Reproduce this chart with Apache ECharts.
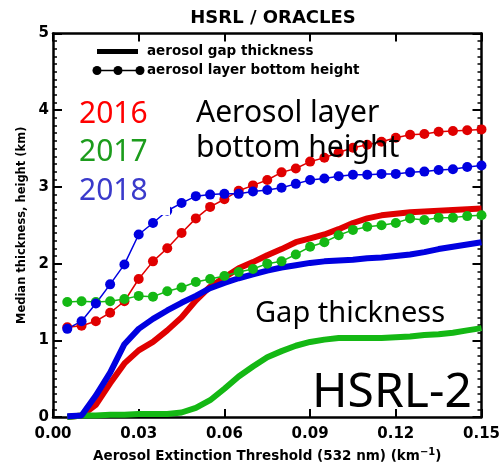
<!DOCTYPE html>
<html>
<head>
<meta charset="utf-8">
<script src="https://cdn.jsdelivr.net/npm/echarts@6.0.0/dist/echarts.min.js"></script>
<style>
html, body { margin: 0; padding: 0; background: #fff; }
#chart { width: 503px; height: 468px; }
</style>
</head>
<body>
<div id="chart"></div>
<script>
// Extinction thresholds (km^-1)
const thresholds = [0.005, 0.010, 0.015, 0.020, 0.025, 0.030, 0.035, 0.040, 0.045, 0.050,
                    0.055, 0.060, 0.065, 0.070, 0.075, 0.080, 0.085, 0.090, 0.095, 0.100,
                    0.105, 0.110, 0.115, 0.120, 0.125, 0.130, 0.135, 0.140, 0.145, 0.150];

// Median aerosol gap thickness (km)
const gap2016 = [0.00, 0.02, 0.16, 0.44, 0.70, 0.87, 0.98, 1.13, 1.30, 1.52,
                 1.70, 1.82, 1.94, 2.02, 2.11, 2.19, 2.28, 2.33, 2.38, 2.45,
                 2.53, 2.59, 2.63, 2.65, 2.67, 2.68, 2.69, 2.70, 2.71, 2.72];
const gap2017 = [0.00, 0.02, 0.02, 0.03, 0.03, 0.04, 0.04, 0.04, 0.06, 0.12,
                 0.22, 0.37, 0.53, 0.66, 0.78, 0.86, 0.93, 0.98, 1.01, 1.03,
                 1.03, 1.03, 1.03, 1.04, 1.05, 1.07, 1.08, 1.10, 1.13, 1.16];
const gap2018 = [0.01, 0.02, 0.28, 0.58, 0.95, 1.15, 1.28, 1.39, 1.49, 1.58,
                 1.68, 1.75, 1.81, 1.86, 1.91, 1.95, 1.98, 2.01, 2.03, 2.04,
                 2.05, 2.07, 2.08, 2.10, 2.12, 2.15, 2.19, 2.22, 2.25, 2.28];

// Median aerosol layer bottom height (km)
const base2016 = [1.17, 1.19, 1.25, 1.36, 1.51, 1.80, 2.03, 2.20, 2.40, 2.59,
                  2.74, 2.84, 2.95, 3.02, 3.09, 3.19, 3.24, 3.33, 3.38, 3.45,
                  3.51, 3.55, 3.59, 3.64, 3.68, 3.69, 3.72, 3.73, 3.74, 3.75];
const base2017 = [1.50, 1.51, 1.50, 1.51, 1.54, 1.58, 1.57, 1.64, 1.69, 1.76,
                  1.80, 1.84, 1.89, 1.93, 2.00, 2.03, 2.12, 2.22, 2.28, 2.37,
                  2.44, 2.48, 2.50, 2.53, 2.59, 2.57, 2.60, 2.60, 2.62, 2.63];
const base2018 = [1.15, 1.25, 1.48, 1.73, 1.99, 2.38, 2.53, 2.69, 2.79, 2.88,
                  2.90, 2.91, 2.91, 2.94, 2.96, 2.99, 3.04, 3.09, 3.11, 3.14,
                  3.16, 3.16, 3.17, 3.17, 3.19, 3.20, 3.22, 3.23, 3.26, 3.28];

const xTicks = ['0.00', '0.03', '0.06', '0.09', '0.12', '0.15'];
const yTicks = ['0', '1', '2', '3', '4', '5'];

const RED = '#e00000', GREEN = '#14b814', BLUE = '#0000e0';
const AXIS_FONT = 'DejaVu Sans';

const pairs = (ys) => thresholds.map((x, i) => [x, ys[i]]);

function gapSeries(name, ys, color) {
  return {
    name, type: 'line', data: pairs(ys), showSymbol: false, symbol: 'none',
    lineStyle: { color, width: 6 }, itemStyle: { color }, z: 2, animation: false
  };
}
function baseSeries(name, ys, color) {
  return {
    name, type: 'line', data: pairs(ys), symbol: 'circle', symbolSize: 10,
    lineStyle: { color, width: 1.5 }, itemStyle: { color }, z: 3, animation: false
  };
}

const axisLine = { show: true, onZero: false, lineStyle: { color: '#000', width: 2.5 } };
const xTick = { show: true, inside: true, length: 8, lineStyle: { color: '#000', width: 2 } };
const yTick = { show: true, inside: true, length: 9, lineStyle: { color: '#000', width: 2 } };
const yMinor = { show: true, splitNumber: 10, length: 4, lineStyle: { color: '#000', width: 1.5 } };

const chart = echarts.init(document.getElementById('chart'), null, { renderer: 'canvas' });
chart.setOption({
  animation: false,
  backgroundColor: '#fff',
  title: {
    text: 'HSRL / ORACLES', left: 268, top: 4, textAlign: 'center',
    textStyle: { fontFamily: AXIS_FONT, fontWeight: 'bold', fontSize: 18, color: '#000' }
  },
  grid: { left: 53, right: 20, top: 33.5, bottom: 44.5, containLabel: false },
  xAxis: [{
    type: 'value', min: 0, max: 0.15, interval: 0.03, position: 'bottom',
    name: 'Aerosol Extinction Threshold (532 nm) (km{sup|−1})',
    nameLocation: 'middle', nameGap: 26,
    nameTextStyle: {
      fontFamily: AXIS_FONT, fontWeight: 'bold', fontSize: 13.5, color: '#000',
      rich: { sup: { fontFamily: AXIS_FONT, fontWeight: 'bold', fontSize: 10, verticalAlign: 'top', padding: [0, 0, 8, 0] } }
    },
    axisLine, axisTick: xTick,
    axisLabel: {
      margin: 10, fontFamily: AXIS_FONT, fontWeight: 'bold', fontSize: 15, color: '#000',
      formatter: (v) => xTicks[Math.round(v / 0.03)]
    },
    splitLine: { show: false }
  }, {
    type: 'value', min: 0, max: 0.15, interval: 0.03, position: 'top',
    axisLine, axisTick: xTick,
    axisLabel: { show: false }, splitLine: { show: false }
  }],
  yAxis: [{
    type: 'value', min: 0, max: 5, interval: 1, position: 'left',
    name: 'Median thickness, height (km)', nameLocation: 'middle', nameGap: 25,
    nameTextStyle: { fontFamily: AXIS_FONT, fontWeight: 'bold', fontSize: 11.5, color: '#000' },
    axisLine, axisTick: yTick, minorTick: yMinor,
    axisLabel: {
      margin: 4, fontFamily: AXIS_FONT, fontWeight: 'bold', fontSize: 15, color: '#000',
      formatter: (v) => yTicks[Math.round(v)]
    },
    splitLine: { show: false }, minorSplitLine: { show: false }
  }, {
    type: 'value', min: 0, max: 5, interval: 1, position: 'right',
    axisLine, axisTick: yTick, minorTick: yMinor,
    axisLabel: { show: false }, splitLine: { show: false }, minorSplitLine: { show: false }
  }],
  series: [
    gapSeries('gap 2016', gap2016, RED),
    gapSeries('gap 2017', gap2017, GREEN),
    gapSeries('gap 2018', gap2018, BLUE),
    baseSeries('bottom 2016', base2016, RED),
    baseSeries('bottom 2017', base2017, GREEN),
    baseSeries('bottom 2018', base2018, BLUE)
  ],
  graphic: [
    // key
    { type: 'line', z: 100, shape: { x1: 97, y1: 51.5, x2: 138, y2: 51.5 }, style: { stroke: '#000', lineWidth: 5 } },
    { type: 'text', z: 100, style: { text: 'aerosol gap thickness', x: 147, y: 51.5, verticalAlign: 'middle',
        font: 'bold 13.5px "DejaVu Sans"', fill: '#000' } },
    { type: 'line', z: 100, shape: { x1: 97, y1: 70.5, x2: 140, y2: 70.5 }, style: { stroke: '#000', lineWidth: 1.5 } },
    { type: 'circle', z: 100, shape: { cx: 97, cy: 70.5, r: 4.5 }, style: { fill: '#000' } },
    { type: 'circle', z: 100, shape: { cx: 118, cy: 70.5, r: 4.5 }, style: { fill: '#000' } },
    { type: 'circle', z: 100, shape: { cx: 140, cy: 70.5, r: 4.5 }, style: { fill: '#000' } },
    { type: 'text', z: 100, style: { text: 'aerosol layer bottom height', x: 147, y: 70.5, verticalAlign: 'middle',
        font: 'bold 13.5px "DejaVu Sans"', fill: '#000' } },
    // opaque box behind the 2018 label
    { type: 'rect', z: 99, shape: { x: 79, y: 171, width: 91, height: 44 }, style: { fill: '#fff' } },
    // years
    { type: 'text', z: 100, style: { text: '2016', x: 79, y: 114, verticalAlign: 'middle', font: '30px "Noto Sans"', fill: '#ff0000' } },
    { type: 'text', z: 100, style: { text: '2017', x: 79, y: 152.5, verticalAlign: 'middle', font: '30px "Noto Sans"', fill: '#1c9c1c' } },
    { type: 'text', z: 100, style: { text: '2018', x: 79, y: 191, verticalAlign: 'middle', font: '30px "Noto Sans"', fill: '#3a3acb' } },
    // annotations
    { type: 'text', z: 100, style: { text: 'Aerosol layer', x: 196, y: 113, verticalAlign: 'middle', font: '30px "Noto Sans"', fill: '#000' } },
    { type: 'text', z: 100, style: { text: 'bottom height', x: 196, y: 148, verticalAlign: 'middle', font: '30px "Noto Sans"', fill: '#000' } },
    { type: 'text', z: 100, style: { text: 'Gap thickness', x: 255, y: 314, verticalAlign: 'middle', font: '29px "Noto Sans"', fill: '#000' } },
    { type: 'text', z: 100, style: { text: 'HSRL-2', x: 312, y: 393, verticalAlign: 'middle', font: '48px "Noto Sans"', fill: '#000' } }
  ]
});
</script>
</body>
</html>
